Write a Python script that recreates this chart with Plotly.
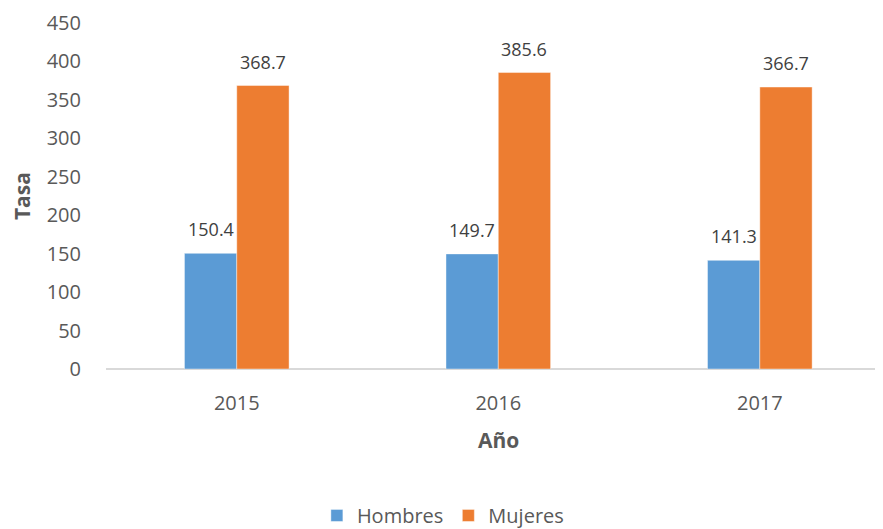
import plotly.graph_objects as go

years = ["2015", "2016", "2017"]
hombres = [150.4, 149.7, 141.3]
mujeres = [368.7, 385.6, 366.7]
yticks = [0, 50, 100, 150, 200, 250, 300, 350, 400, 450]

BLUE = "#5B9BD5"
ORANGE = "#ED7D31"
TXT = "#595959"
FONT = "Open Sans"

xpos = list(range(len(years)))

fig = go.Figure()
fig.add_trace(go.Bar(x=xpos, y=hombres, name="Hombres", marker=dict(color=BLUE, line=dict(color="rgba(255,255,255,0.6)", width=0.7))))
fig.add_trace(go.Bar(x=xpos, y=mujeres, name="Mujeres", marker=dict(color=ORANGE, line=dict(color="rgba(255,255,255,0.6)", width=0.7))))

annotations = []
for i, (h, m) in enumerate(zip(hombres, mujeres)):
    for off, v in ((-0.1, h), (0.1, m)):
        annotations.append(dict(x=i + off, y=v, xref="x", yref="y", text=f"{v:.1f}", showarrow=False,
                                yshift=24, font=dict(family=FONT, size=18, color="#404040")))
annotations.append(dict(x=-0.108, y=0.5, xref="paper", yref="paper", text="<b>Tasa</b>", textangle=-90,
                        xanchor="center", yanchor="middle",
                        showarrow=False, font=dict(family=FONT, size=21, color=TXT)))
annotations.append(dict(x=1.0, y=-0.205, xref="x", yref="paper", text="<b>Año</b>",
                        xanchor="center", yanchor="middle",
                        showarrow=False, font=dict(family=FONT, size=21, color=TXT)))

# page body has an 8px default margin; size/offset the figure to compensate
fig.update_layout(
    width=875, height=521,
    margin=dict(l=98, r=0, t=15, b=160, autoexpand=False),
    paper_bgcolor="white", plot_bgcolor="white",
    barmode="group", bargap=0.6, bargroupgap=0,
    font=dict(family=FONT, color=TXT, size=20),
    showlegend=True,
    legend=dict(orientation="h", xref="container", yref="container", x=0.497, xanchor="center",
                y=0.026, yanchor="middle", font=dict(family=FONT, size=20, color=TXT),
                itemwidth=30, tracegroupgap=0),
    annotations=annotations,
    xaxis=dict(tickmode="array", tickvals=xpos, ticktext=years, range=[-0.5, 2.471],
               showgrid=False, zeroline=False, showline=False, ticks="", ticklabelstandoff=20,
               tickfont=dict(family=FONT, size=20, color=TXT)),
    yaxis=dict(range=[0, 450], tickmode="array", tickvals=yticks, showgrid=False,
               zeroline=True, zerolinecolor="#D9D9D9", zerolinewidth=2,
               showline=False, ticks="", ticklabelstandoff=24,
               tickfont=dict(family=FONT, size=20, color=TXT)),
)

fig.write_html("out.html")
